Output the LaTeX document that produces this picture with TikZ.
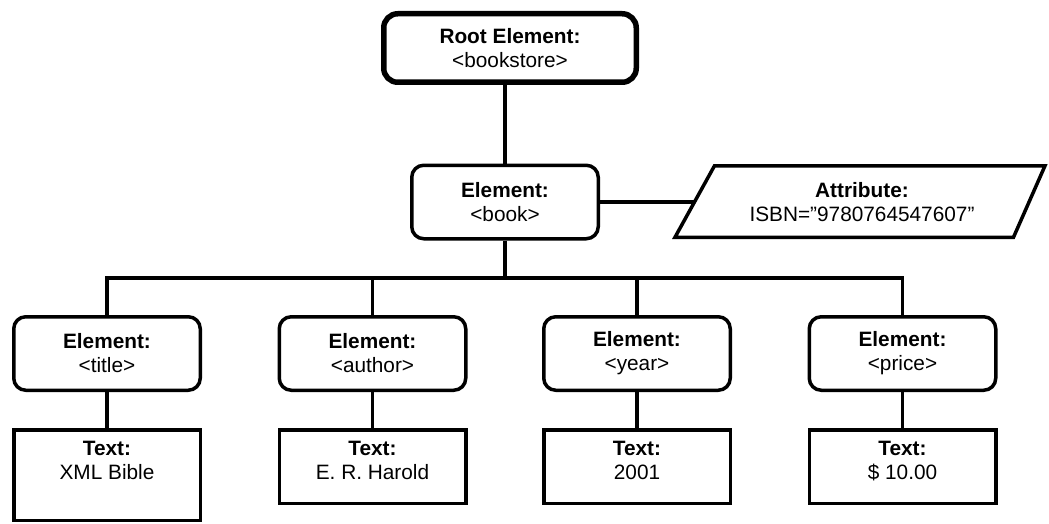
\documentclass[tikz,border=0pt]{standalone}
\usepackage{fontspec}
\setmainfont{Liberation Sans}
\begin{document}
\begin{tikzpicture}[x=1pt,y=-1pt,
  every node/.style={font=\fontsize{20.8}{24}\selectfont},
  rootbox/.style={draw, line width=5.5pt, rounded corners=14pt, minimum width=252.5pt, minimum height=68.5pt, align=center, inner sep=0pt},
  elembox/.style={draw, line width=3.5pt, rounded corners=12pt, minimum width=186.5pt, minimum height=73.5pt, align=center, inner sep=0pt},
  textbox/.style={draw, line width=3.5pt, inner xsep=0pt, inner ysep=11pt},
  attrshape/.style={draw, line width=3.5pt, line join=miter},
  conn/.style={line width=3.5pt},
]
\useasboundingbox (0,0) rectangle (1049,524);

% root and book
\node[rootbox] (root) at (510,48) {\textbf{Root Element:}\\<bookstore>};
\node[elembox] (book) at (505,202) {\textbf{Element:}\\<book>};

% attribute (parallelogram)
\draw[attrshape] (714.5,165.75) -- (1045,165.75) -- (1013.5,237.25) -- (675,237.25) -- cycle;
\node[align=center, inner sep=0pt] (attr) at (862,202) {\textbf{Attribute:}\\ISBN=”9780764547607”};
\coordinate (attrL) at (694,202);

% child elements
\node[elembox] (title)  at (107,353.5)   {\textbf{Element:}\\<title>};
\node[elembox] (author) at (372.5,353.5) {\textbf{Element:}\\<author>};
\node[elembox] (year)   at (637,353.5)   {\textbf{Element:}\\<year>};
\node[elembox] (price)  at (902.5,353.5) {\textbf{Element:}\\<price>};

% text boxes
\node[textbox] (ttitle)  at (107,475)     {\parbox[t][68.5pt][t]{186.5pt}{\centering\textbf{Text:}\\XML Bible}};
\node[textbox] (tauthor) at (372.5,466.5) {\parbox[t][51.5pt][t]{186.5pt}{\centering\textbf{Text:}\\E. R. Harold}};
\node[textbox] (tyear)   at (637,466.5)   {\parbox[t][51.5pt][t]{186.5pt}{\centering\textbf{Text:}\\2001}};
\node[textbox] (tprice)  at (902.5,466.5) {\parbox[t][51.5pt][t]{186.5pt}{\centering\textbf{Text:}\\\$ 10.00}};

% connectors
\draw[conn] (book.north |- root.south) -- (book.north);
\draw[conn] (book.east) -- (attrL);
\coordinate (bus) at (505,278);
\draw[conn] (book.south) -- (bus);
\draw[conn] (title.north) |- (bus) -| (price.north);
\draw[conn] (author.north) -- (author.north |- bus);
\draw[conn] (year.north) -- (year.north |- bus);
\draw[conn] (title.south) -- (ttitle.north);
\draw[conn] (author.south) -- (tauthor.north);
\draw[conn] (year.south) -- (tyear.north);
\draw[conn] (price.south) -- (tprice.north);
\end{tikzpicture}
\end{document}
